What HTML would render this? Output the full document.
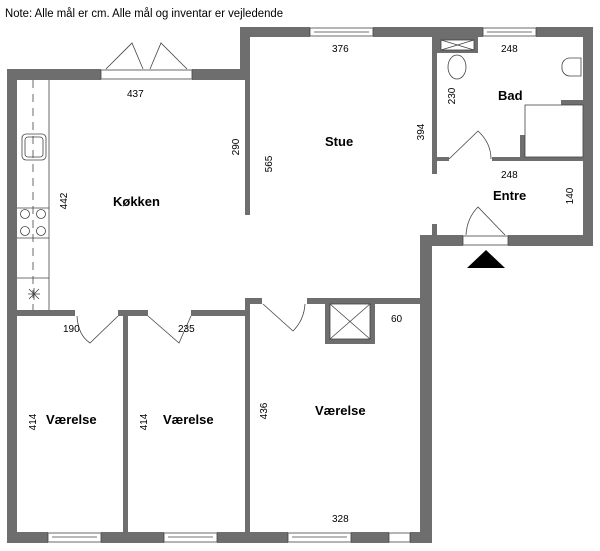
<!DOCTYPE html>
<html><head><meta charset="utf-8"><style>
html,body{margin:0;padding:0;background:#fff;width:600px;height:551px;overflow:hidden}
svg{display:block}
text{font-family:"Liberation Sans",sans-serif;fill:#000}
.b{font-weight:bold;font-size:13px}
.d{font-size:10px}
</style></head><body>
<svg width="600" height="551" viewBox="0 0 600 551" xmlns="http://www.w3.org/2000/svg">
<text x="5" y="17" font-size="11.5" textLength="278" lengthAdjust="spacingAndGlyphs">Note: Alle mål er cm. Alle mål og inventar er vejledende</text>
<g fill="#6e6e6e">
<!-- outer walls -->
<rect x="7" y="69" width="10" height="474"/>
<rect x="7" y="69" width="94" height="11"/>
<rect x="192" y="69" width="58" height="11"/>
<rect x="240" y="27" width="10" height="53"/>
<rect x="240" y="27" width="70" height="10"/>
<rect x="373" y="27" width="110" height="10"/>
<rect x="536" y="27" width="57" height="10"/>
<rect x="583" y="27" width="10" height="219"/>
<rect x="508" y="235" width="85" height="11"/>
<rect x="420" y="235" width="43" height="11"/>
<rect x="420" y="235" width="12" height="308"/>
<rect x="7" y="532" width="41" height="11"/>
<rect x="101" y="532" width="63" height="11"/>
<rect x="217" y="532" width="71" height="11"/>
<rect x="351" y="532" width="38" height="11"/>
<rect x="410" y="532" width="22" height="11"/>
<!-- interior -->
<rect x="245" y="80" width="5" height="135"/>
<rect x="432" y="37" width="5" height="137"/>
<rect x="437" y="37" width="41" height="16"/>
<rect x="437" y="157" width="12" height="4"/>
<rect x="492" y="157" width="91" height="4"/>
<rect x="520" y="135" width="5" height="22"/>
<rect x="561" y="100" width="22" height="5"/>
<rect x="432" y="224" width="5" height="11"/>
<rect x="17" y="310" width="58" height="6"/>
<rect x="118" y="310" width="30" height="6"/>
<rect x="191" y="310" width="59" height="6"/>
<rect x="123" y="310" width="5" height="223"/>
<rect x="245" y="298" width="5" height="235"/>
<rect x="245" y="298" width="17" height="6"/>
<rect x="307" y="298" width="113" height="6"/>
<rect x="325" y="304" width="50" height="40"/>
</g>
<g fill="#fff" stroke="#444" stroke-width="0.8">
<rect x="330" y="304" width="40" height="35"/>
<rect x="441" y="40" width="33" height="10"/>
<!-- windows -->
<rect x="310" y="28" width="63" height="8"/>
<rect x="483" y="28" width="53" height="8"/>
<rect x="48" y="533" width="53" height="9"/>
<rect x="164" y="533" width="53" height="9"/>
<rect x="288" y="533" width="63" height="9"/>
<rect x="389" y="533" width="21" height="9"/>
<rect x="101" y="70" width="91" height="9"/>
<rect x="463" y="236" width="45" height="9"/>
</g>
<g fill="none" stroke="#444" stroke-width="0.8">
<line x1="314" y1="32" x2="369" y2="32"/><line x1="487" y1="32" x2="532" y2="32"/>
<line x1="52" y1="537" x2="97" y2="537"/><line x1="168" y1="537" x2="213" y2="537"/>
<line x1="292" y1="537" x2="347" y2="537"/>
<line x1="330" y1="304" x2="370" y2="339"/><line x1="370" y1="304" x2="330" y2="339"/>
<line x1="441" y1="40" x2="474" y2="50"/><line x1="474" y1="40" x2="441" y2="50"/>
<!-- kitchen counter -->
<line x1="49" y1="80" x2="49" y2="310"/>
<line x1="33" y1="80" x2="33" y2="310" stroke-dasharray="8,6"/>
<line x1="17" y1="208" x2="49" y2="208"/><line x1="17" y1="238" x2="49" y2="238"/>
<line x1="17" y1="278" x2="49" y2="278"/>
<rect x="22" y="134" width="24" height="26" rx="4"/>
<rect x="25" y="137" width="18" height="20" rx="3"/>
<circle cx="25" cy="214" r="4.5"/><circle cx="41" cy="214" r="4.5"/>
<circle cx="25" cy="231" r="4.5"/><circle cx="41" cy="231" r="4.5"/>
<path d="M28 294h12M34 288v12M29 289l10 10M39 289l-10 10"/>
<!-- bath -->
<ellipse cx="457" cy="67" rx="9" ry="12"/>
<path d="M562 67 a8 8 0 0 1 8-9 h11 v18 h-11 a8 8 0 0 1 -8-9z"/>
<rect x="525" y="105" width="58" height="52"/>
<!-- doors -->
<path d="M106 69 L132 43 L143 69"/><path d="M187 69 L161 43 L150 69"/>
<path d="M449 159 L478 131 Q491 143 491 159"/>
<path d="M505 235 L478 207 Q467 218 466 235"/>
<path d="M77 316 Q78 335 90 343 L118 316"/>
<path d="M148 316 L179 343 L191 316"/>
<path d="M263 304 L293 331 Q304 320 305 304"/>
</g>
<polygon points="486,250 467,268 505,268" fill="#000"/>
<text class="b" x="113" y="206">Køkken</text>
<text class="b" x="325" y="146">Stue</text>
<text class="b" x="498" y="100">Bad</text>
<text class="b" x="493" y="200">Entre</text>
<text class="b" x="46" y="424">Værelse</text>
<text class="b" x="163" y="424">Værelse</text>
<text class="b" x="315" y="415">Værelse</text>
<g class="d">
<text x="127" y="97">437</text><text x="332" y="52">376</text><text x="501" y="52">248</text>
<text x="501" y="178">248</text><text x="391" y="322">60</text><text x="332" y="522">328</text>
<text x="63" y="332">190</text><text x="178" y="332">235</text>
<text transform="translate(239,147) rotate(-90)" text-anchor="middle">290</text>
<text transform="translate(272,164) rotate(-90)" text-anchor="middle">565</text>
<text transform="translate(67,201) rotate(-90)" text-anchor="middle">442</text>
<text transform="translate(424,132) rotate(-90)" text-anchor="middle">394</text>
<text transform="translate(455,96) rotate(-90)" text-anchor="middle">230</text>
<text transform="translate(573,196) rotate(-90)" text-anchor="middle">140</text>
<text transform="translate(36,422) rotate(-90)" text-anchor="middle">414</text>
<text transform="translate(147,422) rotate(-90)" text-anchor="middle">414</text>
<text transform="translate(267,411) rotate(-90)" text-anchor="middle">436</text>
</g>
</svg>
</body></html>
